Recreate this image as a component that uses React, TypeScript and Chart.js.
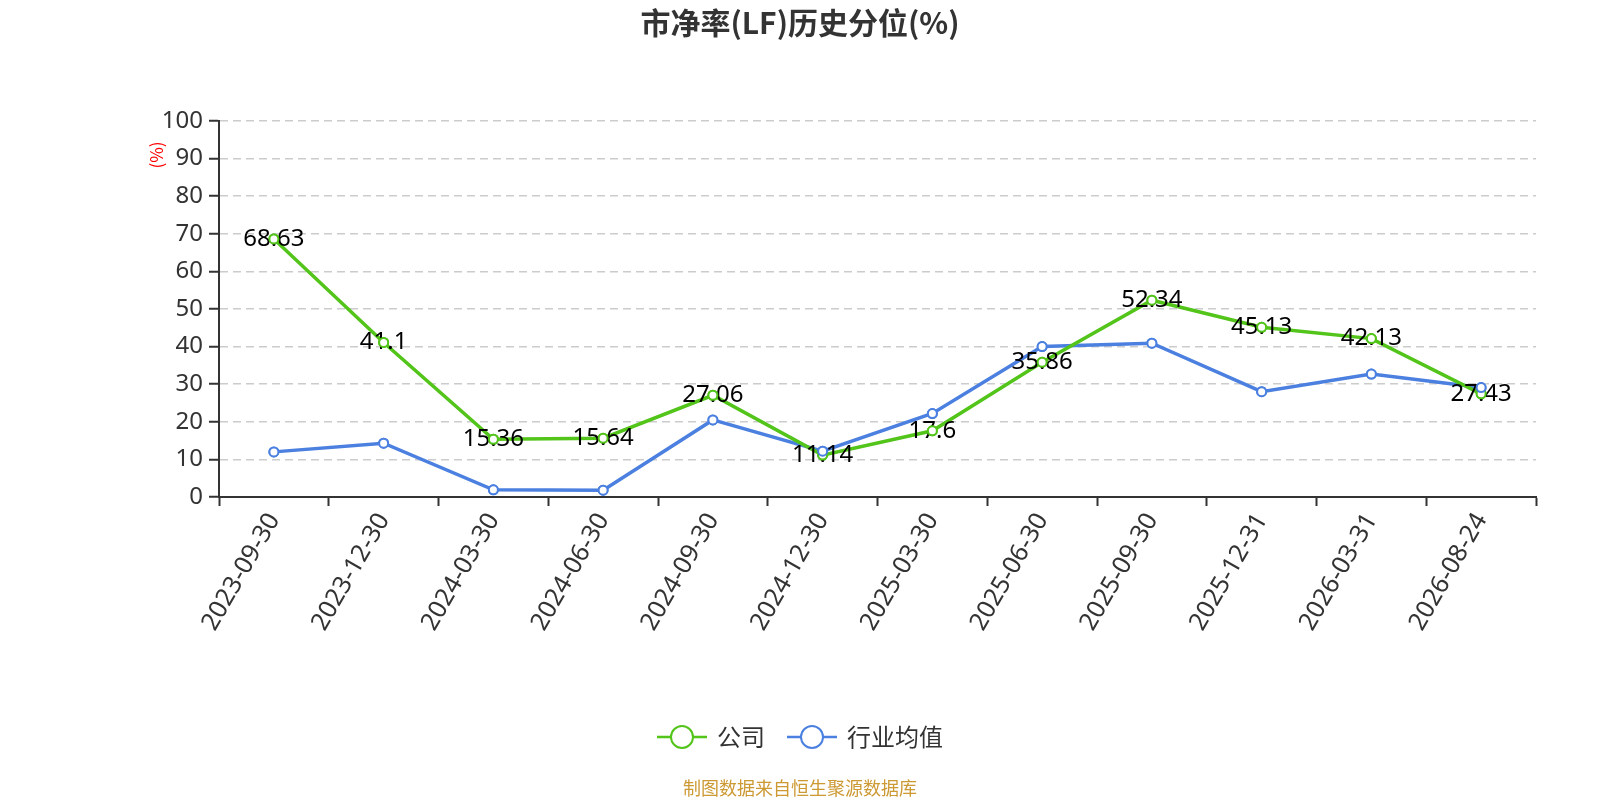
import React, { useEffect, useRef } from "react";
import { Chart, registerables } from "chart.js";

Chart.register(...registerables);

const categories = [
  "2023-09-30", "2023-12-30", "2024-03-30", "2024-06-30", "2024-09-30", "2024-12-30",
  "2025-03-30", "2025-06-30", "2025-09-30", "2025-12-31", "2026-03-31", "2026-08-24",
];
const companyValues = [68.63, 41.1, 15.36, 15.64, 27.06, 11.14, 17.6, 35.86, 52.34, 45.13, 42.13, 27.43];
const industryValues = [12.0, 14.3, 1.9, 1.8, 20.5, 12.2, 22.2, 40.0, 40.9, 28.0, 32.7, 29.1];
const seriesNames = ["公司", "行业均值"];
const yTicks = [0, 100, 10];

const TITLE = "市净率(LF)历史分位(%)";
const FOOTER = "制图数据来自恒生聚源数据库";
const Y_NAME = "(%)";

const GREEN = "#52c41a";
const BLUE = "#4b80e0";
const FONT = "'Noto Sans', 'Noto Sans CJK SC', sans-serif";
const CJK = "'Noto Sans CJK SC', 'Noto Sans', sans-serif";

const W = 1600;
const H = 800;
const AREA = { left: 219, right: 1536, top: 121, bottom: 497 };
const PAD_LEFT = 100;

const decorPlugin = {
  id: "decor",
  afterDatasetsDraw(chart: any) {
    const ctx = chart.ctx;
    const meta = chart.getDatasetMeta(0);
    ctx.save();
    ctx.font = `24px ${FONT}`;
    ctx.fillStyle = "#000";
    ctx.textAlign = "center";
    ctx.textBaseline = "middle";
    meta.data.forEach((pt: any, i: number) => {
      ctx.fillText(String(companyValues[i]), pt.x, pt.y);
    });
    ctx.restore();
    // redraw points on top of labels
    [0, 1].forEach((d) => {
      const m = chart.getDatasetMeta(d);
      m.data.forEach((pt: any) => pt.draw(ctx, chart.chartArea));
    });
  },
  afterDraw(chart: any) {
    const ctx = chart.ctx;
    ctx.save();
    // title
    ctx.font = `bold 30px ${CJK}`;
    ctx.fillStyle = "#333";
    ctx.textAlign = "center";
    ctx.textBaseline = "middle";
    ctx.fillText(TITLE, W / 2, 23);

    // y axis name
    ctx.save();
    ctx.translate(157, 155);
    ctx.rotate(-Math.PI / 2);
    ctx.font = `17px ${CJK}`;
    ctx.fillStyle = "#ff0000";
    ctx.fillText(Y_NAME, 0, 0);
    ctx.restore();

    // legend
    const colors = [GREEN, BLUE];
    ctx.font = `24px ${CJK}`;
    const lineW = 50;
    const textGap = 10;
    const itemGap = 22;
    const widths = seriesNames.map((n) => ctx.measureText(n).width);
    const total = widths.reduce((a, w) => a + lineW + textGap + w, 0) + itemGap * (seriesNames.length - 1);
    let x = W / 2 - total / 2;
    const ly = 737;
    seriesNames.forEach((name, i) => {
      ctx.strokeStyle = colors[i];
      ctx.lineWidth = 2.5;
      ctx.beginPath();
      ctx.moveTo(x, ly);
      ctx.lineTo(x + lineW, ly);
      ctx.stroke();
      ctx.beginPath();
      ctx.arc(x + lineW / 2, ly, 11, 0, Math.PI * 2);
      ctx.fillStyle = "#fff";
      ctx.fill();
      ctx.lineWidth = 2;
      ctx.stroke();
      ctx.fillStyle = "#333";
      ctx.textAlign = "left";
      ctx.textBaseline = "middle";
      ctx.fillText(name, x + lineW + textGap, ly);
      x += lineW + textGap + widths[i] + itemGap;
    });

    // footer
    ctx.font = `18px ${CJK}`;
    ctx.fillStyle = "#cc9933";
    ctx.textAlign = "center";
    ctx.textBaseline = "middle";
    ctx.fillText(FOOTER, W / 2, 788);
    ctx.restore();
  },
};

export default function App() {
  const ref = useRef<HTMLCanvasElement | null>(null);

  useEffect(() => {
    document.body.style.margin = "0";
    const canvas = ref.current!;
    const chart = new Chart(canvas, {
      type: "line",
      data: {
        labels: categories,
        datasets: [
          {
            label: seriesNames[0],
            data: companyValues,
            borderColor: GREEN,
            backgroundColor: "#fff",
            borderWidth: 3.5,
            pointRadius: 4.5,
            pointBorderWidth: 2,
            pointBackgroundColor: "#fff",
            pointBorderColor: GREEN,
            tension: 0,
          },
          {
            label: seriesNames[1],
            data: industryValues,
            borderColor: BLUE,
            backgroundColor: "#fff",
            borderWidth: 3.5,
            pointRadius: 4.5,
            pointBorderWidth: 2,
            pointBackgroundColor: "#fff",
            pointBorderColor: BLUE,
            tension: 0,
          },
        ],
      },
      options: {
        responsive: false,
        animation: false,
        devicePixelRatio: 1,
        events: [],
        layout: {
          padding: { left: PAD_LEFT, right: W - AREA.right, top: AREA.top, bottom: 0 },
        },
        plugins: {
          legend: { display: false },
          title: { display: false },
          tooltip: { enabled: false },
        },
        scales: {
          x: {
            type: "category",
            offset: true,
            grid: {
              offset: true,
              drawOnChartArea: false,
              drawTicks: true,
              tickLength: 9,
              tickColor: "#333",
              tickWidth: 2,
            },
            border: { display: true, color: "#333", width: 2 },
            ticks: {
              autoSkip: false,
              maxRotation: 60,
              minRotation: 60,
              padding: 2,
              color: "#333",
              font: { family: FONT, size: 25 },
            },
            afterFit(scale: any) {
              scale.height = H - AREA.bottom;
            },
          },
          y: {
            min: yTicks[0],
            max: yTicks[1],
            ticks: {
              stepSize: yTicks[2],
              padding: 6,
              color: "#333",
              font: { family: FONT, size: 24 },
            },
            grid: {
              color: "#cccccc",
              lineWidth: 1.5,
              drawTicks: true,
              tickLength: 10,
              tickColor: "#333",
              tickWidth: 2,
              tickBorderDash: [],
            },
            border: { display: true, color: "#333", width: 2, dash: [8, 5] },
            afterFit(scale: any) {
              scale.width = AREA.left - PAD_LEFT;
            },
          },
        },
      },
      plugins: [decorPlugin],
    } as any);
    return () => chart.destroy();
  }, []);

  return (
    <div style={{ width: W, height: H, position: "relative", background: "#fff" }}>
      <canvas ref={ref} width={W} height={H} style={{ display: "block", width: W, height: H }} />
    </div>
  );
}
